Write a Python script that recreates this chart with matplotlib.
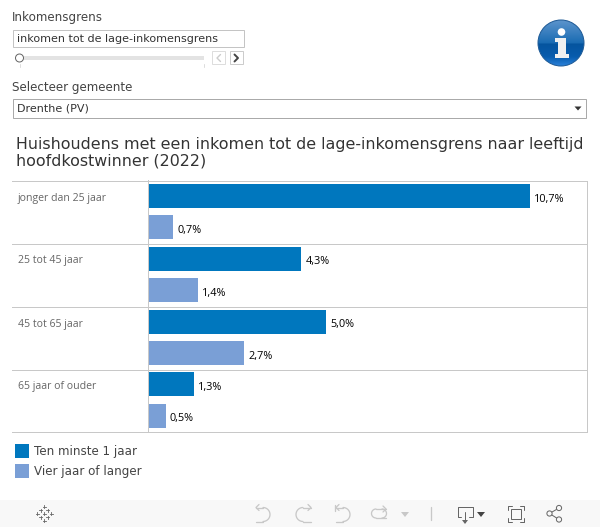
import matplotlib
matplotlib.use("Agg")
import matplotlib.pyplot as plt
from matplotlib.patches import Circle, Rectangle
import numpy as np

# Data
age_groups = ["jonger dan 25 jaar", "25 tot 45 jaar", "45 tot 65 jaar", "65 jaar of ouder"]
series_names = ["Ten minste 1 jaar", "Vier jaar of langer"]
min_1_year = [10.7, 4.3, 5.0, 1.3]
four_years = [0.7, 1.4, 2.7, 0.5]
dark_blue = "#0077BE"
light_blue = "#7A9FD6"

W, H = 600, 527
fig = plt.figure(figsize=(W / 100, H / 100), dpi=100, facecolor="white")

# Overlay in pixel coordinates for the dashboard controls
ui = fig.add_axes([0, 0, 1, 1])
ui.set_xlim(0, W)
ui.set_ylim(H, 0)
ui.axis("off")

TXT = "#444444"
ui_font = "DejaVu Sans"
PX = 0.72  # one pixel as a line width

def box(x0, y0, x1, y1, ec="#c4c4c4", fc="white", lw=PX):
    ui.add_patch(Rectangle((x0, y0), x1 - x0, y1 - y0, fc=fc, ec=ec, lw=lw))

def line(xs, ys, color="#bbbbbb", lw=PX * 1.3):
    ui.plot(xs, ys, color=color, lw=lw, solid_capstyle="round")

# Income limit filter
ui.text(12, 17.5, "Inkomensgrens", fontsize=8.6, color=TXT, va="center", family=ui_font)
box(13, 30, 244, 47)
ui.text(17, 38.5, "inkomen tot de lage-inkomensgrens", fontsize=8.05, color="#333333", va="center", family=ui_font)
ui.add_patch(Rectangle((19, 56), 185, 4, fc="#e3e3e3", ec="none"))
ui.add_patch(Circle((19.5, 58), 4, fc="white", ec="#666666", lw=PX, zorder=3))
line([19.5, 19.5], [64, 67], "#dddddd", PX)
line([204, 204], [64, 67], "#dddddd", PX)
box(212, 51, 225, 64, ec="#dddddd")
box(230, 51, 243, 64, ec="#cccccc")
line([220.5, 217, 220.5], [54.5, 58, 61.5], "#cccccc", 1.0)
line([234.5, 238, 234.5], [54.5, 58, 61.5], "#444444", 1.4)

# Municipality filter
ui.text(12, 87.5, "Selecteer gemeente", fontsize=8.6, color=TXT, va="center", family=ui_font)
box(13, 99, 586, 118, ec="#aaaaaa")
ui.text(17, 108.5, "Drenthe (PV)", fontsize=8.05, color="#333333", va="center", family=ui_font)
ui.fill([574.5, 581.5, 578], [106.5, 106.5, 110.5], color="#333333", lw=0)

# Info icon
stops = np.linspace(0, 1, 64)
r = np.interp(stops, [0, 0.5, 0.52, 0.8, 1], [0.36, 0.10, 0.02, 0.03, 0.16])
g_ = np.interp(stops, [0, 0.5, 0.52, 0.8, 1], [0.58, 0.42, 0.33, 0.36, 0.50])
b = np.interp(stops, [0, 0.5, 0.52, 0.8, 1], [0.80, 0.70, 0.62, 0.68, 0.85])
shade = np.dstack([r, g_, b]).reshape(64, 1, 3)
grad = ui.imshow(shade, extent=(538, 584, 66, 20), aspect="auto", zorder=2)
ui.add_patch(Circle((561, 43), 23, fc="none", ec="#1e5a96", lw=PX, zorder=3))
grad.set_clip_path(Circle((561, 43), 23, transform=ui.transData))
ui.set_xlim(0, W)
ui.set_ylim(H, 0)
ui.add_patch(Circle((561.5, 32), 3.8, fc="white", ec="none", zorder=4))
ui.fill([555, 566, 566, 569, 569, 555, 555, 558, 558, 555],
        [38, 38, 54, 54, 58, 58, 54, 54, 42, 42], color="#f0f0f0", lw=0, zorder=4)

# Title
fig.text(16 / W, 1 - 145 / H, "Huishoudens met een inkomen tot de lage-inkomensgrens naar leeftijd",
         fontsize=11.43, color="#333333", va="center", family=ui_font)
fig.text(16 / W, 1 - 161.5 / H, "hoofdkostwinner (2022)",
         fontsize=11.43, color="#333333", va="center", family=ui_font)

# Bars
ax_left, ax_right, ax_top, ax_bottom = 147.7, 587, 180.3, 431.5
ax = fig.add_axes([ax_left / W, 1 - ax_bottom / H, (ax_right - ax_left) / W, (ax_bottom - ax_top) / H])
ax.patch.set_alpha(0)
rows = np.arange(len(age_groups))
ax.barh(rows * 2, min_1_year, height=0.765, color=dark_blue)
ax.barh(rows * 2 + 1, four_years, height=0.765, color=light_blue)
ax.set_xlim(0, 12.29)
ax.set_ylim(7.5, -0.5)
ax.set_xticks([])
ax.set_yticks([])
for s in ["top", "right", "bottom"]:
    ax.spines[s].set_visible(False)
ax.spines["left"].set_color("#c8c8c8")
ax.spines["left"].set_linewidth(PX)
for i in rows:
    ax.text(min_1_year[i] + 0.12, i * 2 + 0.1, f"{min_1_year[i]:.1f}%".replace(".", ","),
            fontsize=7.8, color="black", va="center", family="Open Sans")
    ax.text(four_years[i] + 0.12, i * 2 + 1.1, f"{four_years[i]:.1f}%".replace(".", ","),
            fontsize=7.8, color="black", va="center", family="Open Sans")

# Row separators and row labels
for y in [180.5, 243.5, 306.5, 369.5, 432]:
    ui.plot([12, 587], [y, y], color="#c8c8c8", lw=PX)
ui.plot([587, 587], [180.5, 432], color="#c8c8c8", lw=PX)
for lab, y in zip(age_groups, [198, 261, 324, 387]):
    ui.text(18, y, lab, fontsize=7.55, color="#666666", va="center", family="Open Sans")

# Legend
for name, col, y in zip(series_names, [dark_blue, light_blue], [451, 471]):
    ui.add_patch(Rectangle((15, y - 7), 14, 14, fc=col, ec="none"))
    ui.text(34, y, name, fontsize=8.6, color=TXT, va="center", family=ui_font)

# Toolbar
ui.add_patch(Rectangle((0, 500), W, 27, fc="#f8f8f8", ec="none"))
for dx, dy in [(0, -7), (0, 7), (-7, 0), (7, 0), (-3.5, -3.5), (3.5, -3.5), (-3.5, 3.5), (3.5, 3.5), (0, 0)]:
    ui.plot([44 + dx - 1.5, 44 + dx + 1.5], [513.5 + dy, 513.5 + dy], color="#666666", lw=0.6)
    ui.plot([44 + dx, 44 + dx], [513.5 + dy - 1.5, 513.5 + dy + 1.5], color="#666666", lw=0.6)

g = "#c8c8c8"
# undo / redo / revert / refresh
t = np.linspace(-np.pi / 2, np.pi / 2, 20)
line(263 + 7 * np.cos(t), 514.5 + 7 * np.sin(t), g)
line([263, 256], [507.5, 507.5], g)
line([259, 256, 259], [504.5, 507.5, 510.5], g)
line([263, 256], [521.5, 521.5], g)
line(303 - 7 * np.cos(t), 514.5 + 7 * np.sin(t), g)
line([303, 311], [507.5, 507.5], g)
line([308, 311, 308], [504.5, 507.5, 510.5], g)
line([303, 311], [521.5, 521.5], g)
line(343 + 7 * np.cos(t), 514.5 + 7 * np.sin(t), g)
line([343, 336], [507.5, 507.5], g)
line([339, 336, 339], [504.5, 507.5, 510.5], g)
line([335, 335], [505, 511], g)
line([343, 336], [521.5, 521.5], g)
# refresh: rounded loop with arrow on the top right
line(376 - 4.5 * np.cos(t), 513.5 + 4.5 * np.sin(t), g)
line(382 + 4.5 * np.cos(t), 513.5 + 4.5 * np.sin(t), g)
line([376, 386], [518, 518], g)
line([376, 386], [509, 509], g)
line([383, 386, 383], [506, 509, 512], g)
ui.fill([401, 409, 405], [512, 512, 517], color=g, lw=0)
line([431, 431], [507, 520], g)

# download, fullscreen, share
k = "#666666"
line([461, 457.5, 457.5, 472.5, 472.5, 469], [517, 517, 506.5, 506.5, 517, 517], k, PX)
line([465, 465], [512, 522], k, PX)
ui.fill([462, 468, 465], [520, 520, 524], color=k, lw=0)
ui.fill([477, 485, 481], [512, 512, 517], color="#444444", lw=0)
ui.add_patch(Rectangle((511, 509), 10, 10, fc="none", ec=k, lw=PX))
for x0, sx in [(508, 1), (524, -1)]:
    for y0, sy in [(506, 1), (522, -1)]:
        line([x0 + sx * 4, x0, x0], [y0, y0, y0 + sy * 4], k, PX)
share = [(549.5, 513.5), (559, 508), (559, 519.5)]
line([share[1][0], share[0][0], share[2][0]], [share[1][1], share[0][1], share[2][1]], k, PX)
for px, py in share:
    ui.add_patch(Circle((px, py), 2.6, fc="#f8f8f8", ec=k, lw=PX, zorder=3))

fig.savefig("out.png", dpi=100, facecolor="white")
